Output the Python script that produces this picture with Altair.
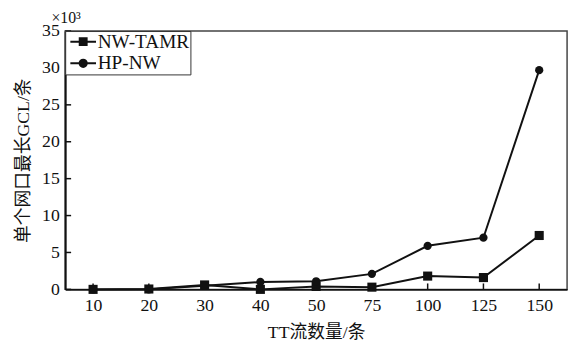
import math
import altair as alt
import pandas as pd

categories = ["10", "20", "30", "40", "50", "75", "100", "125", "150"]
nw_tamr = [0.0, 0.05, 0.6, 0.0, 0.4, 0.3, 1.8, 1.6, 7.3]
hp_nw = [0.0, 0.0, 0.5, 1.0, 1.1, 2.1, 5.9, 7.0, 29.7]
series_names = ["NW-TAMR", "HP-NW"]
y_ticks = [0, 5, 10, 15, 20, 25, 30, 35]

rows = []
for c, v in zip(categories, nw_tamr):
    rows.append({"flow": c, "series": series_names[0], "gcl": v})
for c, v in zip(categories, hp_nw):
    rows.append({"flow": c, "series": series_names[1], "gcl": v})
df = pd.DataFrame(rows)

FONT = "Liberation Serif, Times New Roman, Noto Sans CJK SC"
W, H = 509, 262

x_enc = alt.X("flow:O", sort=categories,
              scale=alt.Scale(type="point", padding=0.5),
              axis=alt.Axis(title="TT流数量/条", labelAngle=0, ticks=False,
                            labelPadding=7, titlePadding=10))
y_enc = alt.Y("gcl:Q", scale=alt.Scale(domain=[0, 35], nice=False, zero=True),
              axis=alt.Axis(title="单个网口最长GCL/条", values=y_ticks, ticks=False,
                            labelPadding=6, titlePadding=9, grid=False))

base = alt.Chart(df)

lines = base.mark_line(color="#111", strokeWidth=2).encode(
    x=x_enc, y=y_enc, detail="series:N")

points = base.mark_point(filled=True, color="#111", opacity=1).encode(
    x=x_enc, y=y_enc,
    shape=alt.Shape("series:N", scale=alt.Scale(domain=series_names, range=["square", "circle"]), legend=None),
    size=alt.Size("series:N", scale=alt.Scale(domain=series_names, range=[85, 70]), legend=None),
)

# legend glyphs: line segment + marker, drawn as filled outlines (unit box scale)
bar = "M-1.53,-0.12H1.53V0.12H-1.53Z"
sq_path = bar + "M-0.53,-0.53H0.53V0.53H-0.53Z"
poly = ["{:.3f},{:.3f}".format(0.55 * math.cos(2 * math.pi * k / 16),
                              0.55 * math.sin(2 * math.pi * k / 16)) for k in range(16)]
ci_path = bar + "M" + "L".join(poly) + "Z"

legend_layer = base.mark_point(filled=True, color="#111", opacity=0).encode(
    x=x_enc, y=y_enc,
    shape=alt.Shape("series:N",
                    scale=alt.Scale(domain=series_names, range=[sq_path, ci_path]),
                    legend=alt.Legend(title=None, orient="top-left", offset=0,
                                      padding=1, strokeColor="#333", fillColor="white",
                                      labelFont=FONT, labelFontSize=19.5, labelColor="#111",
                                      symbolSize=289, symbolStrokeWidth=0,
                                      symbolFillColor="#111",
                                      symbolOpacity=1, symbolOffset=7.5,
                                      rowPadding=1, labelOffset=5, cornerRadius=0)),
)

ytick_df = pd.DataFrame({"gcl": y_ticks})
yticks = alt.Chart(ytick_df).mark_rule(color="#111", strokeWidth=1.5).encode(
    y=y_enc, x=alt.value(0), x2=alt.value(6))

xtick_df = pd.DataFrame({"flow": categories})
xticks = alt.Chart(xtick_df).mark_rule(color="#111", strokeWidth=1.5).encode(
    x=x_enc, y=alt.value(H), y2=alt.value(H - 6))

chart = alt.layer(yticks, xticks, lines, points, legend_layer).resolve_scale(
    shape="independent", size="independent"
).properties(
    width=W, height=H,
    autosize=alt.AutoSizeParams(type="none"),
    padding={"left": 58, "top": 21, "right": 6, "bottom": 50},
    background="white",
    title=alt.TitleParams("×10³", anchor="start", frame="group", dx=-14, dy=7, offset=3,
                          font=FONT, fontSize=16, fontWeight="normal", color="#111"),
).configure_view(
    stroke="#444", strokeWidth=1.5
).configure_axis(
    domainColor="#111", domainWidth=2, labelFont=FONT, titleFont=FONT,
    labelFontSize=18, titleFontSize=18, labelColor="#111", titleColor="#111",
    titleFontWeight="normal"
)

chart.save("out.html", embed_options={"renderer": "svg", "actions": False})
